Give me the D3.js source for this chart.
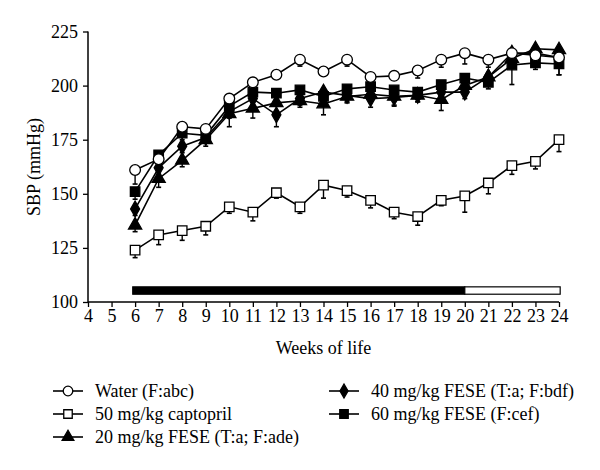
<!DOCTYPE html>
<html><head><meta charset="utf-8">
<script src="https://cdn.jsdelivr.net/npm/d3@7/dist/d3.min.js"></script>
<style>body{margin:0;background:#fff}</style>
</head><body>
<svg id="c" width="600" height="470"></svg>
<script>
const weeks = [6,7,8,9,10,11,12,13,14,15,16,17,18,19,20,21,22,23,24];
const xTicks = [4,5,6,7,8,9,10,11,12,13,14,15,16,17,18,19,20,21,22,23,24];
const yTicks = [100,125,150,175,200,225];
const water      = [161,166,181,180,194,201.5,205,212,206.5,212,204,204.5,207,212,215,212,215,214,213];
const waterErr   = [6.5,3,2,2,2,2,2,3,2,3,2,2,3.5,3.5,5,3.5,3,3,8];
const captopril  = [124,131,133,135,144,141.5,150.5,144,154,151.5,147,141.5,139.5,147,149,155,163,165,175];
const captErr    = [3.5,4.5,4.5,4,3,4,2.5,3,6,3,3.5,3,4,2.5,7.5,5,4,3.5,5.5];
const fese20     = [135.5,157,165.5,175,187,189.5,192,193,191.5,195,196,195,195.5,193.5,200,204,212.5,217,216.5];
const fese20Err  = [3,4,3,3,6,4.5,4,3,5,3,3,4,3,5,3,2,3,3,3];
const fese40     = [143,162,172,176,188,194,186.5,194,197,195.5,194,194.5,195.5,197,197,204,215,215,213];
const fese40Err  = [3,3,3,2,3,3,5.5,3,3,3,4,4,3,4,3,3,3,4,3];
const fese60     = [151,168,178,177,190.5,197,196.5,198,195,198.5,199.5,198,197,200.5,203.5,201.5,209.5,210.5,210];
const fese60Err  = [3.5,3,3,3,3,3,3,3,3,3,3,3,3,3,3,3,9,3,5];
const treatment  = [{from:5.9,to:20,fill:"#000"},{from:20,to:24.05,fill:"#fff"}];
const seriesNames = ["Water (F:abc)","50 mg/kg captopril","20 mg/kg FESE (T:a; F:ade)","40 mg/kg FESE (T:a; F:bdf)","60 mg/kg FESE (F:cef)"];

const series = [
  {name:seriesNames[1], v:captopril, e:captErr, sym:"square", fill:"#fff"},
  {name:seriesNames[2], v:fese20, e:fese20Err, sym:"triangle", fill:"#000"},
  {name:seriesNames[3], v:fese40, e:fese40Err, sym:"diamond", fill:"#000"},
  {name:seriesNames[4], v:fese60, e:fese60Err, sym:"square", fill:"#000"},
  {name:seriesNames[0], v:water, e:waterErr, sym:"circle", fill:"#fff"}
];

const svg = d3.select("#c");
const font = "'Liberation Serif','Times New Roman',serif";
const x = d3.scaleLinear().domain([4,24]).range([88,559]);
const y = d3.scaleLinear().domain([100,225]).range([302,31.5]);

function symPath(sym, k){
  k = k || 1;
  if(sym==="circle") return d3.symbol().type(d3.symbolCircle).size(90*k)();
  if(sym==="square") return d3.symbol().type(d3.symbolSquare).size(90*k)();
  if(sym==="triangle") return d3.symbol().type(d3.symbolTriangle).size(75*k)();
  if(sym==="diamond") return d3.symbol().type(d3.symbolDiamond).size(70*k)();
}

// axes
const yAxis = svg.append("g").attr("transform","translate(88,0)")
  .call(d3.axisLeft(y).tickValues(yTicks).tickSize(5).tickPadding(5));
const xAxis = svg.append("g").attr("transform","translate(0,302)")
  .call(d3.axisBottom(x).tickValues(xTicks).tickSize(5).tickPadding(2));
[yAxis,xAxis].forEach(a=>{
  a.select(".domain").attr("stroke","#000").attr("stroke-width",1.5);
  a.selectAll(".tick line").attr("stroke","#000").attr("stroke-width",1.3);
  a.selectAll("text").attr("font-family",font).attr("font-size",18).attr("fill","#000");
});
xAxis.select(".domain").attr("d","M88,0H559");
yAxis.select(".domain").attr("d","M0,31.5V302");

svg.append("text").attr("transform","translate(40,167) rotate(-90)")
  .attr("text-anchor","middle").attr("font-family",font).attr("font-size",18).text("SBP (mmHg)");
svg.append("text").attr("x",x(14)).attr("y",354).attr("text-anchor","middle")
  .attr("font-family",font).attr("font-size",18).text("Weeks of life");

// treatment bar
svg.selectAll("rect.bar").data(treatment).enter().append("rect")
  .attr("x",d=>x(d.from)).attr("width",d=>x(d.to)-x(d.from))
  .attr("y",y(107)).attr("height",y(103.6)-y(107))
  .attr("fill",d=>d.fill).attr("stroke","#000").attr("stroke-width",1.2);

// lines
const line = d3.line().x((d,i)=>x(weeks[i])).y(d=>y(d));
series.forEach(s=>{
  svg.append("path").attr("d",line(s.v)).attr("fill","none").attr("stroke","#000").attr("stroke-width",1.6);
});
// error bars
series.forEach(s=>{
  const g = svg.append("g");
  s.v.forEach((v,i)=>{
    const cx = x(weeks[i]), y0 = y(v), y1 = y(v - s.e[i]);
    g.append("line").attr("x1",cx).attr("x2",cx).attr("y1",y0).attr("y2",y1).attr("stroke","#000").attr("stroke-width",1.4);
    g.append("line").attr("x1",cx-2.5).attr("x2",cx+2.5).attr("y1",y1).attr("y2",y1).attr("stroke","#000").attr("stroke-width",1.6);
  });
});
// markers
series.forEach(s=>{
  svg.append("g").selectAll("path").data(s.v).enter().append("path")
    .attr("d",symPath(s.sym))
    .attr("transform",(d,i)=>`translate(${x(weeks[i])},${y(d)})`)
    .attr("fill",s.fill).attr("stroke","#000").attr("stroke-width",1.3);
});

// legend
const leg = [
  {name:seriesNames[0], sym:"circle", fill:"#fff", lx:53, ly:391},
  {name:seriesNames[1], sym:"square", fill:"#fff", lx:53, ly:414},
  {name:seriesNames[2], sym:"triangle", fill:"#000", lx:53, ly:437},
  {name:seriesNames[3], sym:"diamond", fill:"#000", lx:329, ly:391},
  {name:seriesNames[4], sym:"square", fill:"#000", lx:329, ly:414}
];
leg.forEach(l=>{
  const g = svg.append("g");
  g.append("line").attr("x1",l.lx).attr("x2",l.lx+30).attr("y1",l.ly).attr("y2",l.ly).attr("stroke","#000").attr("stroke-width",1.6);
  g.append("path").attr("d",symPath(l.sym,0.8)).attr("transform",`translate(${l.lx+15},${l.ly})`)
    .attr("fill",l.fill).attr("stroke","#000").attr("stroke-width",1.3);
  g.append("text").attr("x",l.lx+42).attr("y",l.ly+6).attr("font-family",font).attr("font-size",18).text(l.name);
});
</script>
</body></html>
